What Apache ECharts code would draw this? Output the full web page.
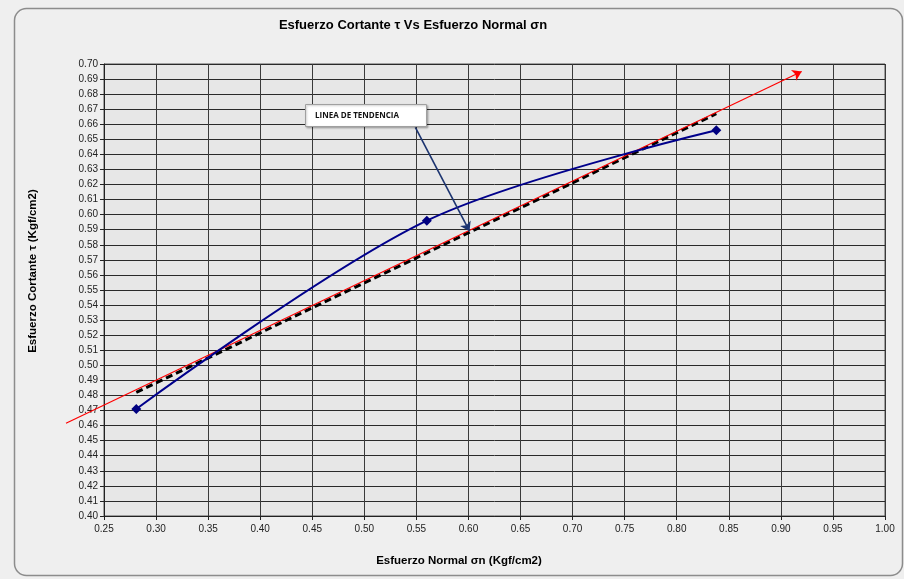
<!DOCTYPE html>
<html><head><meta charset="utf-8">
<script src="https://cdn.jsdelivr.net/npm/echarts@6/dist/echarts.min.js"></script>
<style>html,body{margin:0;padding:0;background:#f2f2f2}#c{width:904px;height:579px}</style>
</head><body><div id="c"></div>
<script>
// ---- data ----
const sigmaN = [0.281, 0.560, 0.838];          // Esfuerzo Normal σn (Kgf/cm2)
const tau    = [0.471, 0.596, 0.656];          // Esfuerzo Cortante τ (Kgf/cm2)
const trendX = [0.281, 0.838];                 // dashed linear trend line
const trendY = [0.482, 0.667];
const redX   = [0.2135, 0.920];                // red arrow line
const redY   = [0.4616, 0.695];
const calloutX = [0.549, 0.601];               // callout arrow (start, tip)
const calloutY = [0.658, 0.589];
const xTickMin = 0.25, xTickMax = 1.00, xTickStep = 0.05;
const yTickMin = 0.40, yTickMax = 0.70, yTickStep = 0.01;
const titleText = 'Esfuerzo Cortante \u03C4 Vs Esfuerzo Normal \u03C3n';
const xTitle = 'Esfuerzo Normal \u03C3n (Kgf/cm2)';
const yTitle = 'Esfuerzo Cortante \u03C4 (Kgf/cm2)';
const calloutText = 'LINEA DE TENDENCIA';

const chart = echarts.init(document.getElementById('c'), null, {renderer: 'canvas'});
const font = '"Liberation Sans", Arial, sans-serif';
const gridCol = '#2a2a2a';

chart.setOption({
  backgroundColor: '#efefef',
  animation: false,
  grid: {left: 104, top: 64, width: 781, height: 452, show: true,
         backgroundColor: '#e7e7e7', borderColor: '#555', borderWidth: 1},
  xAxis: {
    type: 'value', min: xTickMin, max: xTickMax, interval: xTickStep,
    axisLine: {show: true, onZero: false, lineStyle: {color: '#222', width: 1}},
    axisTick: {show: true, length: 4, lineStyle: {color: '#222'}},
    axisLabel: {color: '#222', fontFamily: font, fontSize: 10, margin: 8,
                formatter: v => v.toFixed(2)},
    splitLine: {show: true, lineStyle: {color: '#3a3a3a', width: 1}}
  },
  yAxis: {
    type: 'value', min: yTickMin, max: yTickMax, interval: yTickStep,
    axisLine: {show: true, onZero: false, lineStyle: {color: '#222', width: 1}},
    axisTick: {show: true, length: 4, lineStyle: {color: '#222'}},
    axisLabel: {color: '#222', fontFamily: font, fontSize: 10, margin: 6, interval: 0,
                formatter: v => v.toFixed(2)},
    splitLine: {show: true, lineStyle: {color: gridCol, width: 1}}
  },
  series: [
    {
      type: 'line', name: 'tendencia',
      data: trendX.map((x, i) => [x, trendY[i]]),
      symbol: 'none', z: 3,
      lineStyle: {color: '#000', width: 3, type: [7, 4]}
    },
    {
      type: 'lines', coordinateSystem: 'cartesian2d', clip: false, z: 4,
      symbol: ['none', 'arrow'], symbolSize: 9,
      lineStyle: {color: '#ff0000', width: 1.2, opacity: 1},
      data: [{coords: [[redX[0], redY[0]], [redX[1], redY[1]]]}]
    },
    {
      type: 'line', name: 'datos',
      data: sigmaN.map((x, i) => [x, tau[i]]),
      smooth: 0.32, z: 5,
      symbol: 'diamond', symbolSize: 10, showSymbol: true,
      itemStyle: {color: '#000080'},
      lineStyle: {color: '#00008b', width: 2}
    },
    {
      type: 'lines', coordinateSystem: 'cartesian2d', clip: false, z: 6,
      symbol: ['none', 'arrow'], symbolSize: 9,
      lineStyle: {color: '#1c3470', width: 1.6, opacity: 1},
      data: [{coords: [[calloutX[0], calloutY[0]], [calloutX[1], calloutY[1]]]}]
    }
  ],
  graphic: [
    {type: 'rect', silent: true, z: -10,
     shape: {x: 14.5, y: 8.5, width: 888, height: 567, r: 12},
     style: {fill: 'transparent', stroke: '#8c8c8c', lineWidth: 1.5}},
    {type: 'text', z: 10,
     style: {x: 413, y: 25, text: titleText, align: 'center', verticalAlign: 'middle',
             font: 'bold 13px ' + font, fill: '#000'}},
    {type: 'text', z: 10,
     style: {x: 459, y: 561, text: xTitle, align: 'center', verticalAlign: 'middle',
             font: 'bold 11.5px ' + font, fill: '#000'}},
    {type: 'text', z: 10, x: 33, y: 271, rotation: Math.PI / 2,
     style: {x: 0, y: 0, text: yTitle, align: 'center', verticalAlign: 'middle',
             font: 'bold 11.5px ' + font, fill: '#000'}},
    {type: 'rect', z: 20, shape: {x: 305.5, y: 104.5, width: 121, height: 22},
     style: {fill: '#ffffff', stroke: '#a0a0a0', lineWidth: 1,
             shadowBlur: 2, shadowColor: 'rgba(0,0,0,0.25)', shadowOffsetX: 1, shadowOffsetY: 1}},
    {type: 'text', z: 21,
     style: {x: 315, y: 116, text: calloutText, align: 'left', verticalAlign: 'middle',
             font: 'bold 8px "Open Sans", "Liberation Sans", sans-serif', fill: '#111'}}
  ]
});
</script></body></html>
